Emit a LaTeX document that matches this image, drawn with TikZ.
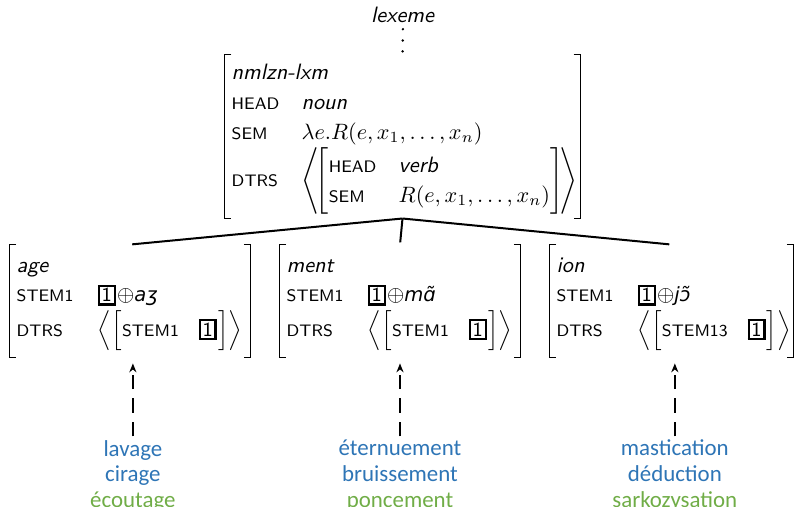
\documentclass[tikz,border=0pt]{standalone}
\usepackage{fontspec}
\usepackage{xcolor}
\usepackage{tikz}
\usetikzlibrary{arrows.meta,positioning,calc}
\renewcommand{\familydefault}{\sfdefault}
\newfontfamily\wordfont{Carlito}
\newfontfamily\ipafont{DejaVu Sans}[Scale=0.88]
\definecolor{wblue}{HTML}{2E75B6}
\definecolor{wgreen}{HTML}{70AD47}

\newcommand{\feat}[1]{{\fontsize{7.5}{9}\selectfont\MakeUppercase{#1}}}
\newcommand{\tagbox}[1]{{\setlength{\fboxsep}{0.7pt}\setlength{\fboxrule}{1pt}\fbox{\small #1}}\kern0.6pt}
\newcommand{\phon}[1]{{\ipafont\itshape #1}}
\newcommand{\avmbr}[1]{%
  \draw[avmline] ([xshift=3pt]#1.north west) -| (#1.south west) -- ++(3pt,0);
  \draw[avmline] ([xshift=-3pt]#1.north east) -| (#1.south east) -- ++(-3pt,0);}
\renewcommand{\arraystretch}{1.12}

\begin{document}
\begin{tikzpicture}[x=0.45pt,y=-0.45pt,
    avm/.style={inner xsep=3pt, inner ysep=0pt, align=left},
    avmline/.style={line width=0.6pt},
    branch/.style={line width=0.9pt, shorten >=1pt},
    derive/.style={-{Stealth[length=4pt,width=3.2pt]}, line width=0.8pt,
                   dash pattern=on 6.6pt off 4pt, shorten >=2.7pt, shorten <=1.5pt},
    words/.style={font=\wordfont\fontsize{10.3}{11.6}\selectfont, align=center, inner sep=0pt},
]
\useasboundingbox (0,0) rectangle (796,506);

\node[inner sep=0pt] (lex) at (403,15) {\textit{lexeme}};

\node[avm, text width=153.7pt, minimum height=73.4pt] (top) at (402.5,136.5) {%
\begin{tabular}{@{}l@{\hspace{10pt}}l@{}}
\multicolumn{2}{@{}l}{\textit{nmlzn-lxm}}\\
\feat{head} & \textit{noun}\\
\feat{sem} & $\lambda e.R(e,x_1,\dots,x_n)$\\
\feat{dtrs} & $\left\langle\!\left[\begin{tabular}{@{}l@{\hspace{10pt}}l@{}}
  \feat{head} & \textit{verb}\\
  \feat{sem} & $R(e,x_1,\dots,x_n)$
  \end{tabular}\right]\!\right\rangle$
\end{tabular}};

\node[avm, text width=102pt, minimum height=50.4pt] (age) at (130,301) {%
\begin{tabular}{@{}l@{\hspace{11pt}}l@{}}
\multicolumn{2}{@{}l}{\textit{age}}\\
\feat{stem1} & \tagbox{1}$\oplus$\phon{aʒ}\\
\feat{dtrs} & $\left\langle\left[\begin{tabular}{@{}l@{\hspace{9pt}}l@{}}
  \rule[-5pt]{0pt}{15pt}\feat{stem1} & \tagbox{1}
  \end{tabular}\right]\right\rangle$
\end{tabular}};

\node[avm, text width=102pt, minimum height=50.4pt] (ment) at (400,301) {%
\begin{tabular}{@{}l@{\hspace{11pt}}l@{}}
\multicolumn{2}{@{}l}{\textit{ment}}\\
\feat{stem1} & \tagbox{1}$\oplus$\phon{mɑ̃}\\
\feat{dtrs} & $\left\langle\left[\begin{tabular}{@{}l@{\hspace{9pt}}l@{}}
  \rule[-5pt]{0pt}{15pt}\feat{stem1} & \tagbox{1}
  \end{tabular}\right]\right\rangle$
\end{tabular}};

\node[avm, text width=103.4pt, minimum height=50.4pt] (ion) at (671.5,301) {%
\begin{tabular}{@{}l@{\hspace{11pt}}l@{}}
\multicolumn{2}{@{}l}{\textit{ion}}\\
\feat{stem1} & \tagbox{1}$\oplus$\phon{jɔ̃}\\
\feat{dtrs} & $\left\langle\left[\begin{tabular}{@{}l@{\hspace{9pt}}l@{}}
  \rule[-5pt]{0pt}{15pt}\feat{stem13} & \tagbox{1}
  \end{tabular}\right]\right\rangle$
\end{tabular}};

\avmbr{top}
\avmbr{age}
\avmbr{ment}
\avmbr{ion}

% dotted dominance
\foreach \k in {0.19,0.55,0.9}
  \fill ($(lex.south)!\k!(top.north)$) circle (0.6pt);

% tree
\draw[branch] (top.south) -- (age.north);
\draw[branch] (top.south) -- (ment.north);
\draw[branch] (top.south) -- (ion.north);

% attested words
\node[words, below=37pt of age, xshift=1.3pt] (ageW)
  {\textcolor{wblue}{lavage}\\\textcolor{wblue}{cirage}\\\textcolor{wgreen}{écoutage}};
\node[words, below=37pt of ment] (mentW)
  {\textcolor{wblue}{éternuement}\\\textcolor{wblue}{bruissement}\\\textcolor{wgreen}{poncement}};
\node[words, below=37pt of ion, xshift=1.5pt] (ionW)
  {\textcolor{wblue}{mastication}\\\textcolor{wblue}{déduction}\\\textcolor{wgreen}{sarkozysation}};

\draw[derive] (ageW.north) -- (ageW.north |- age.south);
\draw[derive] (mentW.north) -- (mentW.north |- ment.south);
\draw[derive] (ionW.north) -- (ionW.north |- ion.south);

\end{tikzpicture}
\end{document}
